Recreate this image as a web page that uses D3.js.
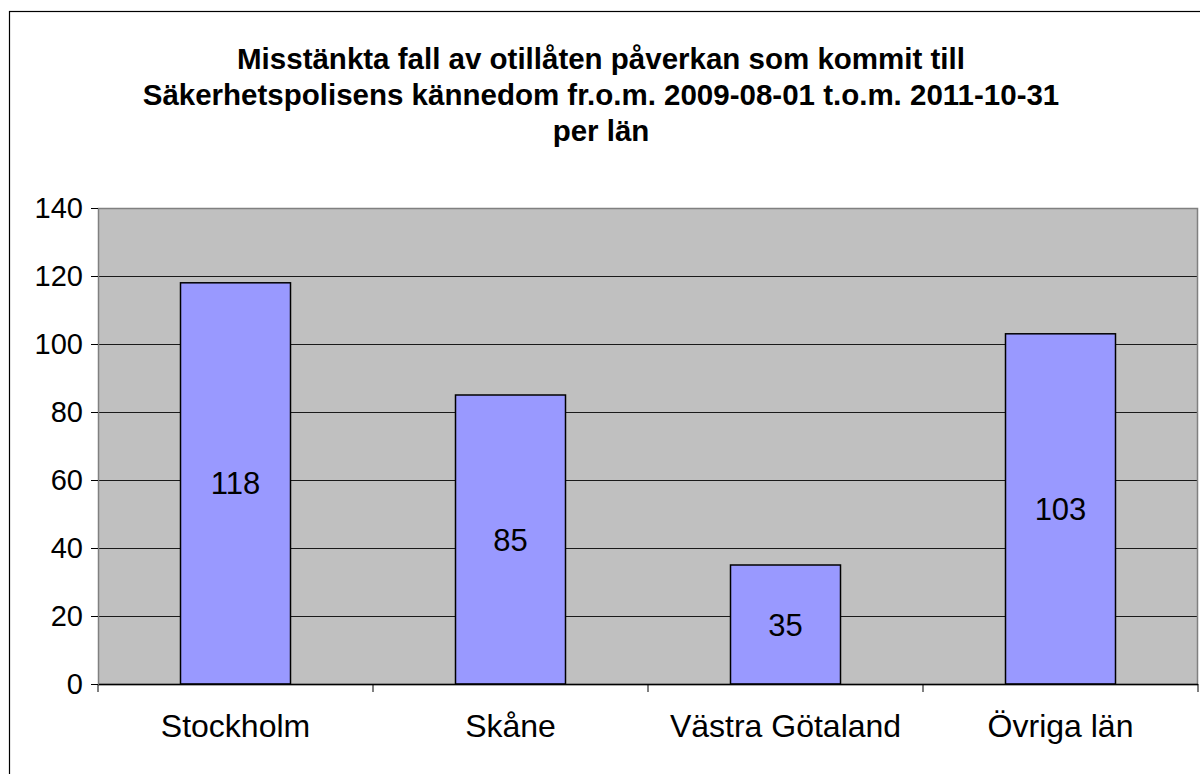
<!DOCTYPE html>
<html>
<head>
<meta charset="utf-8">
<script src="https://cdn.jsdelivr.net/npm/d3@7"></script>
<style>
  body { margin: 0; background: #fff; }
  text { font-family: "Liberation Sans", Arial, sans-serif; }
</style>
</head>
<body>
<div class="chart"></div>
<script>
// chart data
var categories = ["Stockholm", "Skåne", "Västra Götaland", "Övriga län"];
var values = [118, 85, 35, 103];
var yTicks = [0, 20, 40, 60, 80, 100, 120, 140];
var titleLines = [
  "Misstänkta fall av otillåten påverkan som kommit till",
  "Säkerhetspolisens kännedom fr.o.m. 2009-08-01 t.o.m. 2011-10-31",
  "per län"
];

var svgWidth = 1200;
var svgHeight = 774;

var margin = { top: 208, right: 2, bottom: 90, left: 98 };
var width = svgWidth - margin.left - margin.right;
var height = svgHeight - margin.top - margin.bottom;

var svg = d3.select(".chart")
  .append("svg")
  .attr("width", svgWidth)
  .attr("height", svgHeight);

// outer frame
svg.append("rect")
  .attr("x", 9.5).attr("y", 11.5)
  .attr("width", 1400).attr("height", 1000)
  .attr("fill", "none").attr("stroke", "#000").attr("stroke-width", 1.2);

// title
svg.append("g").selectAll("text")
  .data(titleLines)
  .join("text")
  .attr("x", 601)
  .attr("y", (d, i) => 69 + i * 36)
  .attr("text-anchor", "middle")
  .attr("font-size", "29.5px")
  .attr("font-weight", "bold")
  .text(d => d);

var chartGroup = svg.append("g")
  .attr("transform", `translate(${margin.left}, ${margin.top})`);

var x = d3.scaleBand()
  .domain(categories)
  .range([0, width])
  .paddingInner(0.6)
  .paddingOuter(0.3);

var y = d3.scaleLinear()
  .domain([0, 140])
  .range([height, 0]);

// plot background
chartGroup.append("rect")
  .attr("width", width).attr("height", height)
  .attr("fill", "#c0c0c0");

// gridlines
chartGroup.append("g").selectAll("line")
  .data(yTicks.filter(d => d > 0 && d < 140))
  .join("line")
  .attr("x1", 0).attr("x2", width)
  .attr("y1", d => Math.round(y(d)) + 0.5).attr("y2", d => Math.round(y(d)) + 0.5)
  .attr("stroke", "#1a1a1a").attr("stroke-width", 1.2);

// plot border
chartGroup.append("rect")
  .attr("x", 0.5).attr("y", 0.5)
  .attr("width", width - 1).attr("height", height)
  .attr("fill", "none").attr("stroke", "#808080").attr("stroke-width", 1.5);

// bars
chartGroup.append("g").selectAll("rect")
  .data(values)
  .join("rect")
  .attr("x", (d, i) => x(categories[i]))
  .attr("y", d => y(d))
  .attr("width", x.bandwidth())
  .attr("height", d => height - y(d))
  .attr("fill", "#9999ff")
  .attr("stroke", "#000")
  .attr("stroke-width", 1.5);

// value labels
chartGroup.append("g").selectAll("text")
  .data(values)
  .join("text")
  .attr("x", (d, i) => x(categories[i]) + x.bandwidth() / 2)
  .attr("y", d => (y(d) + height) / 2 + 11)
  .attr("text-anchor", "middle")
  .attr("font-size", "31px")
  .text(d => d);

// x axis
var xAxis = chartGroup.append("g")
  .attr("transform", `translate(0, ${height})`);
xAxis.append("line")
  .attr("x1", 0).attr("x2", width)
  .attr("y1", 0.5).attr("y2", 0.5)
  .attr("stroke", "#000").attr("stroke-width", 1.5);
xAxis.selectAll(".tick")
  .data(d3.range(categories.length + 1))
  .join("line")
  .attr("x1", i => i * x.step()).attr("x2", i => i * x.step())
  .attr("y1", 0).attr("y2", 8)
  .attr("stroke", "#000").attr("stroke-width", 1);
xAxis.selectAll("text")
  .data(categories)
  .join("text")
  .attr("x", d => x(d) + x.bandwidth() / 2)
  .attr("y", 53)
  .attr("text-anchor", "middle")
  .attr("font-size", "32px")
  .text(d => d);

// y axis
var yAxis = chartGroup.append("g")
  .call(d3.axisLeft(y).tickValues(yTicks).tickSize(7).tickPadding(8));
yAxis.select(".domain").attr("stroke", "#808080");
yAxis.selectAll(".tick line").attr("stroke", "#000");
yAxis.selectAll(".tick text")
  .attr("font-size", "29px")
  .attr("font-family", "'Liberation Sans', Arial, sans-serif")
  .attr("fill", "#000");
</script>
</body>
</html>
